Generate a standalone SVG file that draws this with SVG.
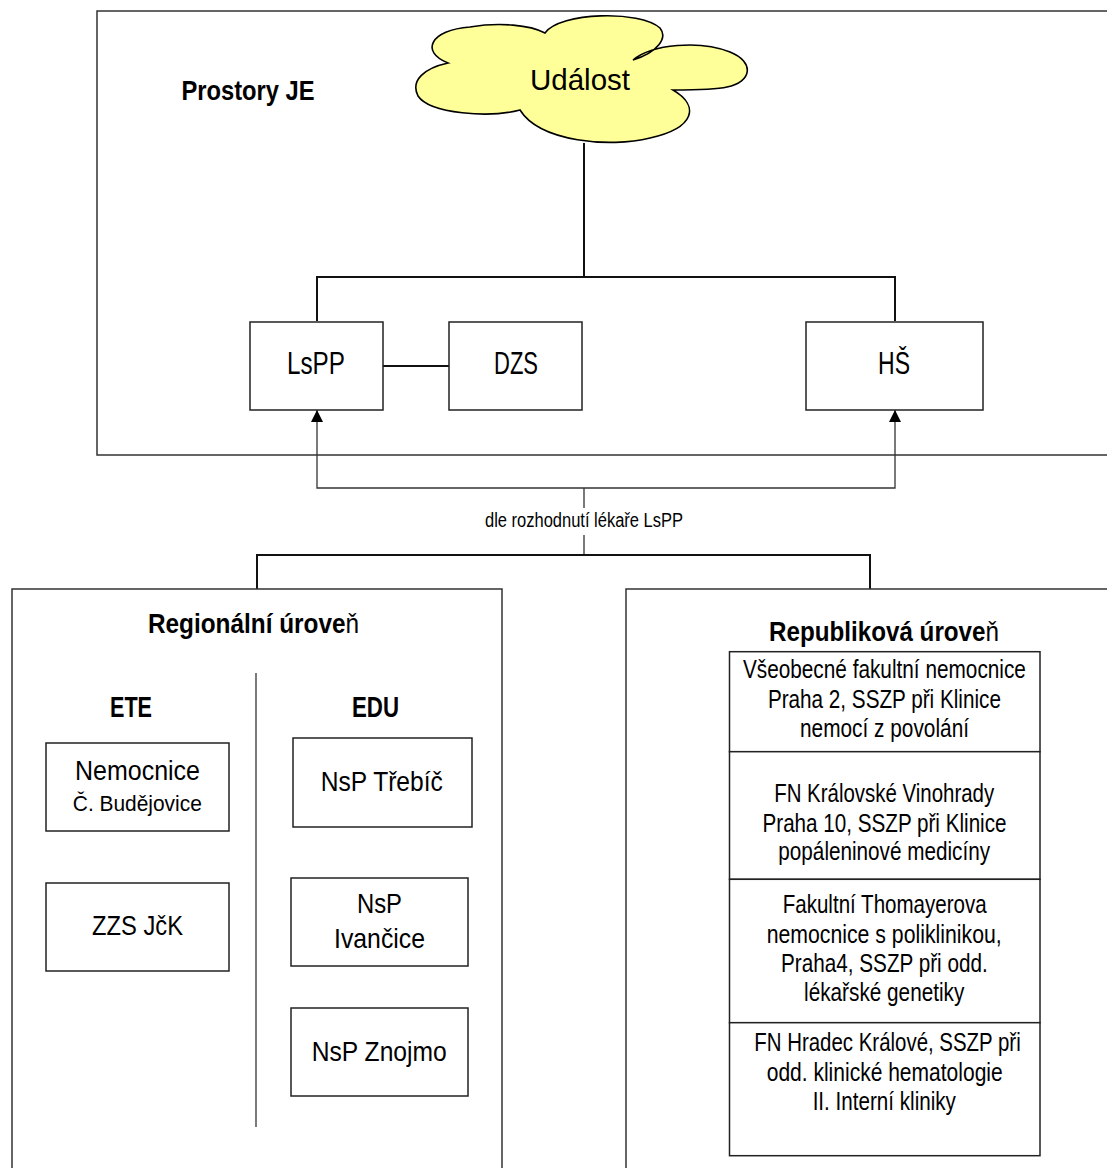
<svg xmlns="http://www.w3.org/2000/svg" width="1107" height="1168" viewBox="0 0 1107 1168">
<style>
.frame{fill:none;stroke:#333;stroke-width:1.5}
.box{fill:#fff;stroke:#222;stroke-width:1.5}
.ln{fill:none;stroke:#111;stroke-width:2}
.thin{fill:none;stroke:#333;stroke-width:1.3}
text{font-family:"Liberation Sans Narrow","Liberation Sans",Arial,sans-serif;fill:#000;text-anchor:middle}
.h{font-weight:bold;font-size:28px}
.hh{font-weight:bold;font-size:30px}
.n{font-weight:normal}
.big{font-size:31px}
.m{font-size:28.5px}
.s{font-size:22.5px}
.r{font-size:25.5px}
.lbl{font-size:19.5px}
.cl{font-family:"Liberation Sans",Arial,sans-serif;font-size:29.5px}
</style>
<defs>
<marker id="arr" markerUnits="userSpaceOnUse" markerWidth="12" markerHeight="12" refX="12" refY="6" orient="auto">
<path d="M0,0 L12,6 L0,12 z" fill="#000"/>
</marker>
</defs>
<rect width="1107" height="1168" fill="#fff"/>

<g id="frame-prostory">
<rect class="frame" x="97" y="11" width="1030" height="444"/>
<text class="h" x="248" y="100" textLength="133" lengthAdjust="spacingAndGlyphs">Prostory JE</text>
</g>

<g id="connectors">
<path class="ln" d="M584,143 V277"/>
<path class="ln" d="M317,321 V277 H895 V321"/>
<path class="ln" d="M383,366 H449"/>
<path class="thin" d="M584,488 H317 V410" marker-end="url(#arr)"/>
<path class="thin" d="M584,488 H895 V410" marker-end="url(#arr)"/>
<path class="thin" d="M584,488 V508 M584,535 V555"/>
<path class="ln" d="M257,589 V555 H870 V589"/>
<text class="lbl" x="584" y="527" textLength="198" lengthAdjust="spacingAndGlyphs">dle rozhodnutí lékaře LsPP</text>
</g>

<g id="udalost">
<path d="M448,63 C420,52 430,30 470,27 C500,22 530,25 545,33 C560,12 640,10 660,28 C668,38 658,52 633,60 C652,44 700,40 730,52 C755,62 752,82 727,87 C715,90 690,90 673,90 C700,106 695,128 650,138 C610,148 540,142 520,110 C490,118 430,114 418,96 C410,80 425,68 448,63 Z" fill="#ffff99" stroke="#000" stroke-width="1.6"/>
<text class="cl" x="580" y="90">Událost</text>
</g>

<g id="lspp">
<rect class="box" x="250" y="322" width="133" height="88"/>
<text class="big" x="316" y="374" textLength="58" lengthAdjust="spacingAndGlyphs">LsPP</text>
</g>
<g id="dzs">
<rect class="box" x="449" y="322" width="133" height="88"/>
<text class="big" x="516" y="374" textLength="44" lengthAdjust="spacingAndGlyphs">DZS</text>
</g>
<g id="hs">
<rect class="box" x="806" y="322" width="177" height="88"/>
<text class="big" x="894" y="374" textLength="32" lengthAdjust="spacingAndGlyphs">HŠ</text>
</g>

<g id="regionalni">
<rect class="frame" x="12" y="589" width="490" height="600"/>
<text class="h" x="253.5" y="633" textLength="211" lengthAdjust="spacingAndGlyphs">Regionální úrove<tspan class="n">ň</tspan></text>
<path class="thin" d="M256,673 V1127"/>
<text class="hh" x="131" y="717" textLength="42" lengthAdjust="spacingAndGlyphs">ETE</text>
<text class="hh" x="375.5" y="717" textLength="47" lengthAdjust="spacingAndGlyphs">EDU</text>
</g>

<g id="nemocnice-cb">
<rect class="box" x="46" y="743" width="183" height="88"/>
<text class="m" x="137.5" y="780" textLength="125" lengthAdjust="spacingAndGlyphs">Nemocnice</text>
<text class="s" x="137.3" y="810.7" textLength="129" lengthAdjust="spacingAndGlyphs">Č. Budějovice</text>
</g>
<g id="zzs-jck">
<rect class="box" x="46" y="883" width="183" height="88"/>
<text class="m" x="137.5" y="935" textLength="91" lengthAdjust="spacingAndGlyphs">ZZS JčK</text>
</g>
<g id="nsp-trebic">
<rect class="box" x="293" y="738" width="179" height="89"/>
<text class="m" x="381.8" y="790.7" textLength="122" lengthAdjust="spacingAndGlyphs">NsP Třebíč</text>
</g>
<g id="nsp-ivancice">
<rect class="box" x="291" y="878" width="177" height="88"/>
<text class="m" x="379.5" y="912.7" textLength="45" lengthAdjust="spacingAndGlyphs">NsP</text>
<text class="m" x="379.5" y="948.3" textLength="91" lengthAdjust="spacingAndGlyphs">Ivančice</text>
</g>
<g id="nsp-znojmo">
<rect class="box" x="291" y="1008" width="177" height="88"/>
<text class="m" x="379.2" y="1060.7" textLength="135" lengthAdjust="spacingAndGlyphs">NsP Znojmo</text>
</g>

<g id="republikova">
<rect class="frame" x="626" y="589" width="500" height="600"/>
<text class="h" x="884" y="641" textLength="230" lengthAdjust="spacingAndGlyphs">Republiková úrove<tspan class="n">ň</tspan></text>
</g>

<g id="vfn">
<rect class="box" x="729.5" y="651.7" width="310.5" height="100"/>
<text class="r" x="884.4" y="678.3" textLength="283" lengthAdjust="spacingAndGlyphs">Všeobecné fakultní nemocnice</text>
<text class="r" x="884.4" y="708.3" textLength="233" lengthAdjust="spacingAndGlyphs">Praha 2, SSZP při Klinice</text>
<text class="r" x="884.5" y="737.3" textLength="169" lengthAdjust="spacingAndGlyphs">nemocí z povolání</text>
</g>
<g id="fnkv">
<rect class="box" x="729.5" y="751.7" width="310.5" height="127.6"/>
<text class="r" x="884.2" y="801.7" textLength="220" lengthAdjust="spacingAndGlyphs">FN Královské Vinohrady</text>
<text class="r" x="884.5" y="831.7" textLength="244" lengthAdjust="spacingAndGlyphs">Praha 10, SSZP při Klinice</text>
<text class="r" x="884.2" y="859.5" textLength="211.7" lengthAdjust="spacingAndGlyphs">popáleninové medicíny</text>
</g>
<g id="ftn">
<rect class="box" x="729.5" y="879.3" width="310.5" height="143.4"/>
<text class="r" x="884.7" y="912.7" textLength="204" lengthAdjust="spacingAndGlyphs">Fakultní Thomayerova</text>
<text class="r" x="884.2" y="942.7" textLength="235" lengthAdjust="spacingAndGlyphs">nemocnice s poliklinikou,</text>
<text class="r" x="884.4" y="971.7" textLength="206.7" lengthAdjust="spacingAndGlyphs">Praha4, SSZP při odd.</text>
<text class="r" x="884.2" y="1000.7" textLength="160.3" lengthAdjust="spacingAndGlyphs">lékařské genetiky</text>
</g>
<g id="fnhk">
<rect class="box" x="729.5" y="1022.7" width="310.5" height="133"/>
<text class="r" x="887.5" y="1051" textLength="266.4" lengthAdjust="spacingAndGlyphs">FN Hradec Králové, SSZP při</text>
<text class="r" x="884.7" y="1080.7" textLength="236" lengthAdjust="spacingAndGlyphs">odd. klinické hematologie</text>
<text class="r" x="884.3" y="1110" textLength="143.3" lengthAdjust="spacingAndGlyphs">II. Interní kliniky</text>
</g>
</svg>
